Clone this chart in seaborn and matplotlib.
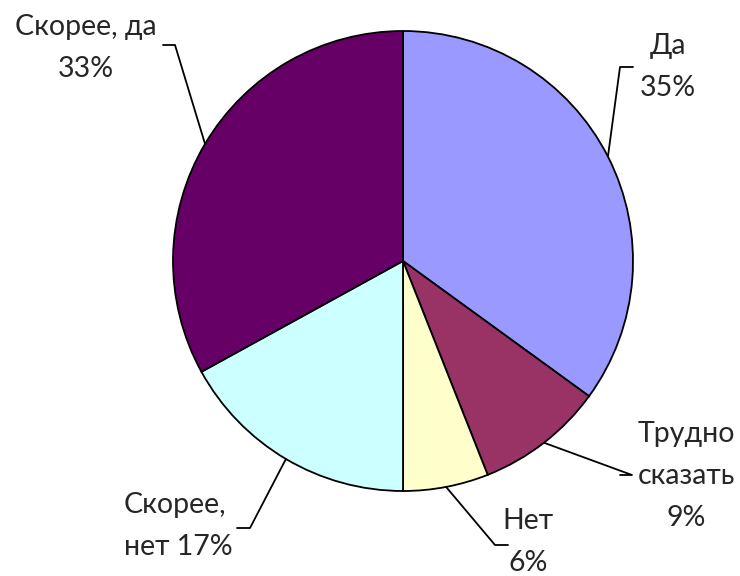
import numpy as np
import matplotlib
matplotlib.use("Agg")
import matplotlib.pyplot as plt
import seaborn as sns

labels = ["Да", "Трудно\nсказать", "Нет", "Скорее,\nнет", "Скорее, да"]
values = [35, 9, 6, 17, 33]
colors = ["#9999FF", "#993366", "#FFFFCC", "#CCFFFF", "#660066"]

sns.set_theme(style="white")
plt.rcParams["font.family"] = ["Lato", "DejaVu Sans"]

W, H = 740, 576
fig = plt.figure(figsize=(W / 100, H / 100), dpi=100)
ax = fig.add_axes([0, 0, 1, 1])

cx, cy, r = 403, H - 261, 230
wedges, _ = ax.pie(values, colors=colors, startangle=90, counterclock=False,
                   center=(cx, cy), radius=r, frame=True,
                   wedgeprops=dict(edgecolor="black", linewidth=1.3))
ax.set_xlim(0, W)
ax.set_ylim(0, H)
ax.set_aspect("equal")
ax.axis("off")

# label text: (x, y, ha), elbow point (x, y), elbow end x
layout = [
    ((668, 67, "center"), (620, 67), 633),
    ((686, 476, "center"), (632, 475), 620),
    ((528, 542, "center"), (495, 545), 508),
    ((124, 526, "left"), (250, 528), 237),
    ((86, 48, "center"), (175, 45), 163),
]

for w, v, lab, ((tx, ty, ha), (ex, ey), hx) in zip(wedges, values, labels, layout):
    ang = np.deg2rad((w.theta1 + w.theta2) / 2)
    px, py = cx + r * np.cos(ang), cy + r * np.sin(ang)
    ax.plot([px, ex, hx], [py, H - ey, H - ey], color="black", lw=1.3)
    if lab.endswith("нет"):
        txt = f"{lab} {v}%"
    else:
        txt = f"{lab}\n{v}%"
    ax.text(tx, H - ty, txt, ha=ha, va="center", fontsize=20.5,
            linespacing=1.75, multialignment="center" if ha == "center" else "left")

fig.savefig("out.png", dpi=100)
